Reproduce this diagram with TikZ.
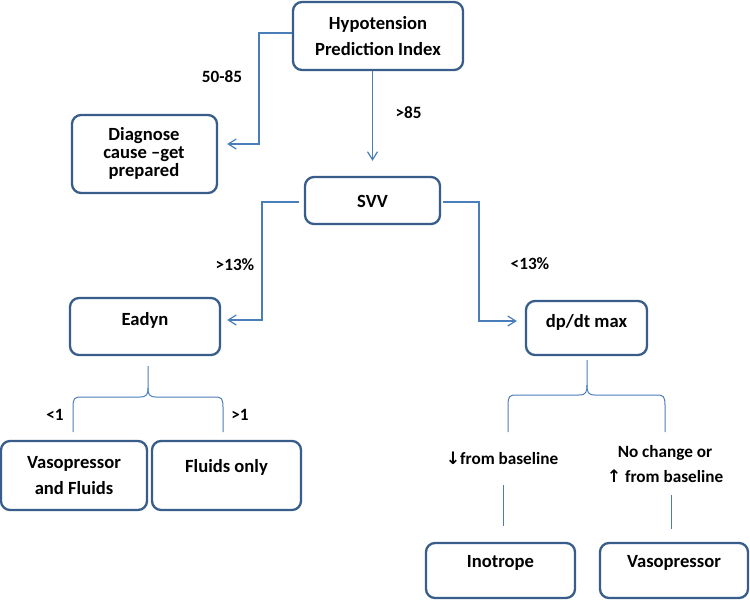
\documentclass[tikz,border=0pt]{standalone}
\usepackage{fontspec}
\setmainfont{Carlito}
\newfontfamily\arrowfont{DejaVu Sans}
\usetikzlibrary{arrows.meta}
\definecolor{boxc}{HTML}{385D8A}
\definecolor{linec}{HTML}{4A7EBB}
\begin{document}
\begin{tikzpicture}[x=1pt,y=-1pt,
  box/.style={draw=boxc, line width=2.3pt, rounded corners=9pt, fill=white, inner sep=0pt},
  txt/.style={font=\fontsize{18.6}{26}\selectfont\bfseries, align=center, inner sep=0pt},
  lbl/.style={font=\fontsize{17.2}{25}\selectfont\bfseries, align=center, inner sep=0pt},
  conn/.style={draw=linec, line width=1.2pt},
  arr/.style={conn, -{Straight Barb[length=8pt,width=10pt]}}]

\useasboundingbox (0,0) rectangle (750,600);

% boxes
\node[box, minimum width=170pt, minimum height=68pt] (hpi)   at (378,36) {};
\node[box, minimum width=145pt, minimum height=78pt] (diag)  at (144.5,154) {};
\node[box, minimum width=135pt, minimum height=47pt] (svv)   at (372.5,200.5) {};
\node[box, minimum width=150pt, minimum height=57pt] (eadyn) at (145,326.5) {};
\node[box, minimum width=121pt, minimum height=54pt] (dpdt)  at (586.5,328) {};
\node[box, minimum width=146pt, minimum height=69pt] (vaf)   at (74,475.5) {};
\node[box, minimum width=149pt, minimum height=69pt] (fluid) at (226.5,475.5) {};
\node[box, minimum width=149pt, minimum height=55pt] (ino)   at (500.5,570.5) {};
\node[box, minimum width=148pt, minimum height=55pt] (vaso)  at (674,570.5) {};

% box texts
\node[txt] (hpiT)   at (378,36) {Hypotension\\Prediction Index};
\node[txt, font=\fontsize{18.6}{18}\selectfont\bfseries] (diagT) at (144,153) {Diagnose\\cause –get\\prepared};
\node[txt] (svvT)   at (372.5,201) {SVV};
\node[txt] (eadynT) at (145,320) {Eadyn};
\node[txt] (dpdtT)  at (586.5,322) {dp/dt max};
\node[txt] (vafT)   at (74,475.5) {Vasopressor\\and Fluids};
\node[txt] (fluidT) at (226.5,467) {Fluids only};
\node[txt] (inoT)   at (500.5,563) {Inotrope};
\node[txt] (vasoT)  at (674,563) {Vasopressor};

% labels
\node[lbl] (l5085) at (222,77) {50-85};
\node[lbl] (l85)   at (408.5,113) {>85};
\node[lbl] (lg13)  at (235,265) {>13\%};
\node[lbl] (ll13)  at (530,264) {<13\%};
\node[lbl] (ll1)   at (55,415) {<1};
\node[lbl] (lg1)   at (240,415) {>1};
\node[lbl] (ldown) at (502,458) {{\arrowfont\bfseries ↓}from baseline};
\node[lbl] (lup)   at (665,464.5) {No change or\\{\arrowfont\bfseries ↑} from baseline};

% connectors
\draw[arr] ([yshift=3pt]hpi.west) -- (259,33) |- ([xshift=9pt,yshift=10pt]diag.east);
\draw[arr] (hpi.south -| svv.north) -- ([yshift=15pt]svv.north);
\draw[arr] ([xshift=-5pt,yshift=-1.5pt]svv.west) -- (262,202) |- ([xshift=6pt,yshift=6.5pt]eadyn.east);
\draw[arr] ([xshift=2pt,yshift=-1.5pt]svv.east) -- (479,202) |- ([xshift=-8pt,yshift=7pt]dpdt.west);

% braces
\coordinate (b1top) at (148,366);
\coordinate (b2top) at (587,360);
\draw[conn, line width=1pt] (73,432) -- (73,407) .. controls (73,398) and (75,397) .. (81,397)
  -- (140,397) .. controls (147,397) and (148,394) .. (148,388) -- (b1top);
\draw[conn, line width=1pt] (148,388) .. controls (148,394) and (149,397) .. (156,397)
  -- (215,397) .. controls (221,397) and (223,398) .. (223,407) -- (223,432);
\draw[conn, line width=1pt] (508,432) -- (508,405) .. controls (508,396) and (510,395) .. (516,395)
  -- (579,395) .. controls (586,395) and (587,392) .. (587,385) -- (b2top);
\draw[conn, line width=1pt] (587,385) .. controls (587,392) and (588,395) .. (595,395)
  -- (657,395) .. controls (663,395) and (665,396) .. (665,405) -- (665,432);

% stems to bottom boxes
\coordinate (s1) at (503,485);
\coordinate (s2) at (671,495);
\draw[conn, line width=1pt] (s1) -- ([xshift=2.5pt,yshift=16pt]ino.north);
\draw[conn, line width=1pt] (s2) -- ([xshift=-3pt,yshift=13pt]vaso.north);
\end{tikzpicture}
\end{document}
